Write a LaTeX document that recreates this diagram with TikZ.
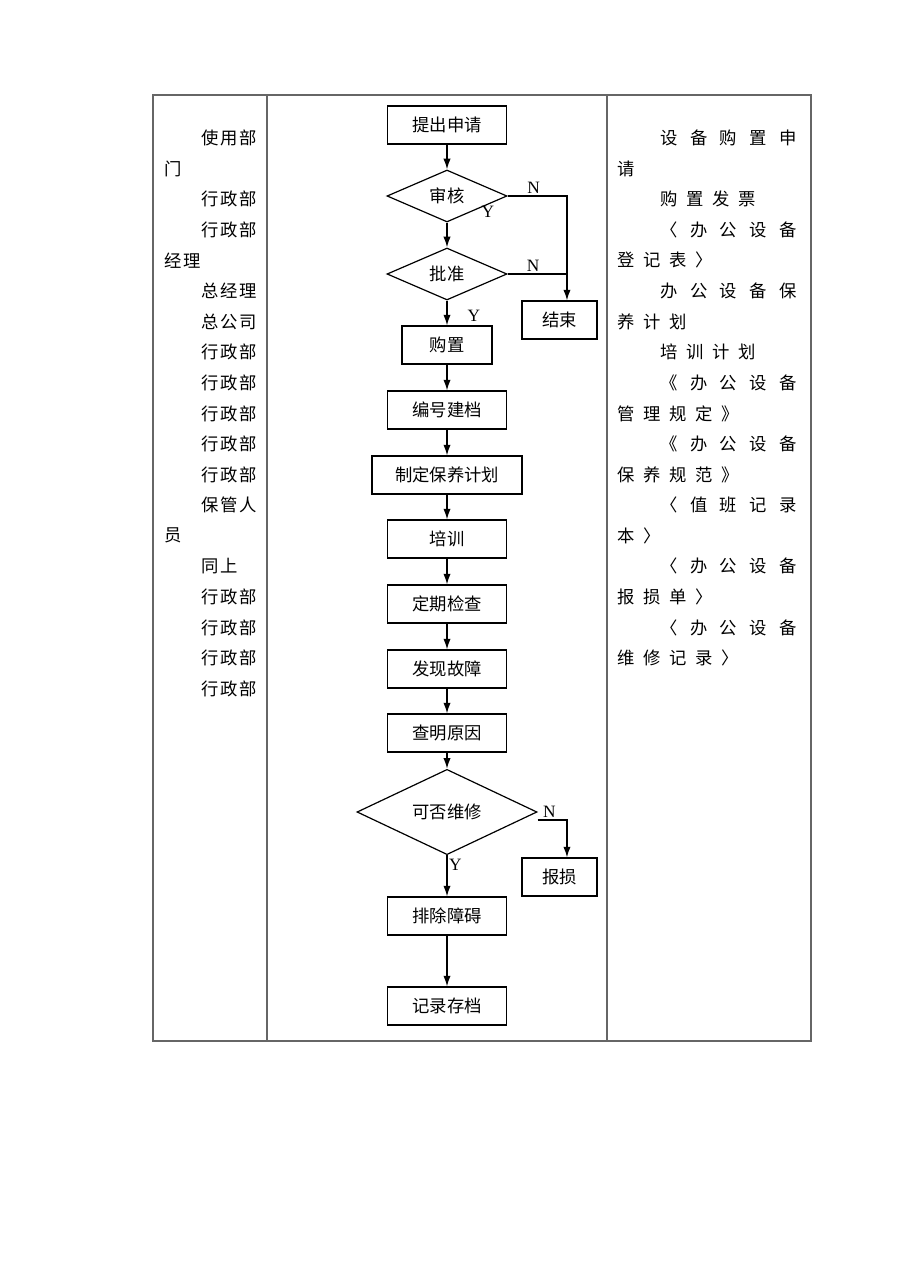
\documentclass[tikz,border=0pt]{standalone}
\usepackage{fontspec}
\setmainfont{Liberation Serif}
\newfontfamily\cjk{Noto Sans CJK SC}
\newfontfamily\cjkw[LetterSpace=72]{Noto Sans CJK SC}
\newfontfamily\cjkn[LetterSpace=50]{Noto Sans CJK SC}
\newfontfamily\cjkl[LetterSpace=10]{Noto Sans CJK SC}
\usetikzlibrary{arrows.meta}
\usetikzlibrary{shapes.geometric}
\tikzset{>={Latex[length=8pt,width=5.5pt]}}
\definecolor{rule}{HTML}{666666}
\tikzstyle{box}=[draw,rectangle,line width=0.8pt,minimum width=89.25pt,minimum height=28.5pt,inner sep=0pt,font=\cjk\fontsize{13pt}{15pt}\selectfont]
\tikzstyle{ask}=[draw,diamond,line width=0.9pt,minimum width=90pt,minimum height=39pt,inner sep=0pt,font=\cjk\fontsize{13pt}{15pt}\selectfont]
\tikzstyle{flow}=[->,line width=1.1pt]
\tikzstyle{yn}=[font=\fontsize{13pt}{15pt}\selectfont,inner sep=1pt]
\tikzstyle{cell}=[anchor=west,inner sep=0pt,font=\fontsize{13pt}{15pt}\selectfont]

\begin{document}
\begin{tikzpicture}[x=0.75pt,y=-0.75pt]
  \useasboundingbox (0,0) rectangle (920,1274);
  % table
  \draw[rule,line width=0.8pt] (153,95) rectangle (811,1041);
  \draw[rule,line width=0.8pt] (267,95) -- (267,1041);
  \draw[rule,line width=0.8pt] (607,95) -- (607,1041);
  % left column
  \foreach \n/\i/\t in {0/1/使用部,1/0/门,2/1/行政部,3/1/行政部,4/0/经理,
      5/1/总经理,6/1/总公司,7/1/行政部,8/1/行政部,9/1/行政部,10/1/行政部,
      11/1/行政部,12/1/保管人,13/0/员,14/1/同上,15/1/行政部,16/1/行政部,
      17/1/行政部,18/1/行政部}
    \node[cell] (who\n) at ({164+37*\i},{138+30.6*\n}) {\cjkl\t};
  % right column
  \foreach \n/\i/\w/\t in {0/1/w/设备购置申,1/0/n/请,2/1/n/购置发票,
      3/1/w/〈办公设备,4/0/n/登记表〉,5/1/w/办公设备保,6/0/n/养计划,
      7/1/n/培训计划,8/1/w/《办公设备,9/0/n/管理规定》,10/1/w/《办公设备,
      11/0/n/保养规范》,12/1/w/〈值班记录,13/0/n/本〉,14/1/w/〈办公设备,
      15/0/n/报损单〉,16/1/w/〈办公设备,17/0/n/维修记录〉}
    \node[cell] (doc\n) at ({617+43*\i},{138+30.6*\n}) {\csname cjk\w\endcsname\t};
  % flow
  \node[box] (apply) at (447,125) {提出申请};
  \node[ask] (check) at (447,196) {审核};
  \node[ask] (agree) at (447,274) {批准};
  \node[box,minimum width=56.25pt] (stop) at (559.5,320) {结束};
  \node[box,minimum width=67.5pt] (buy) at (447,345) {购置};
  \node[box] (file) at (447,410) {编号建档};
  \node[box,minimum width=112.5pt] (plan) at (447,475) {制定保养计划};
  \node[box] (train) at (447,539) {培训};
  \node[box] (inspect) at (447,604) {定期检查};
  \node[box] (fault) at (447,669) {发现故障};
  \node[box] (cause) at (447,733) {查明原因};
  \node[ask,minimum width=135pt,minimum height=48.75pt] (fixable) at (447,812) {可否维修};
  \node[box,minimum width=56.25pt] (scrap) at (559.5,877) {报损};
  \node[box] (repair) at (447,916) {排除障碍};
  \node[box] (archive) at (447,1006) {记录存档};
  \coordinate (stopin) at ([xshift=5.6pt]stop.north);
  \coordinate (scrapin) at ([xshift=5.6pt]scrap.north);
  \draw[flow] (apply) -- (check);
  \draw[flow] (check) -- (agree);
  \draw[flow] (check.east) -| node[yn,pos=0.22,above] (n1) {N} (stopin);
  \draw[line width=1.1pt] (agree.east) -- node[yn,pos=0.43,above] (n2) {N} (agree.east -| stopin);
  \node[yn] (y1) at (488,212) {Y};
  \draw[flow] (agree) -- (buy);
  \node[yn] (y2) at (474,316) {Y};
  \draw[flow] (buy) -- (file);
  \draw[flow] (file) -- (plan);
  \draw[flow] (plan) -- (train);
  \draw[flow] (train) -- (inspect);
  \draw[flow] (inspect) -- (fault);
  \draw[flow] (fault) -- (cause);
  \draw[flow] (cause) -- (fixable);
  \draw[flow] ([yshift=-6pt]fixable.east) -| node[yn,pos=0.2,above] (n3) {N} (scrapin);
  \draw[flow] (fixable) -- node[yn,pos=0.22,right] (y3) {Y} (repair);
  \draw[flow] (repair) -- (archive);
\end{tikzpicture}
\end{document}
